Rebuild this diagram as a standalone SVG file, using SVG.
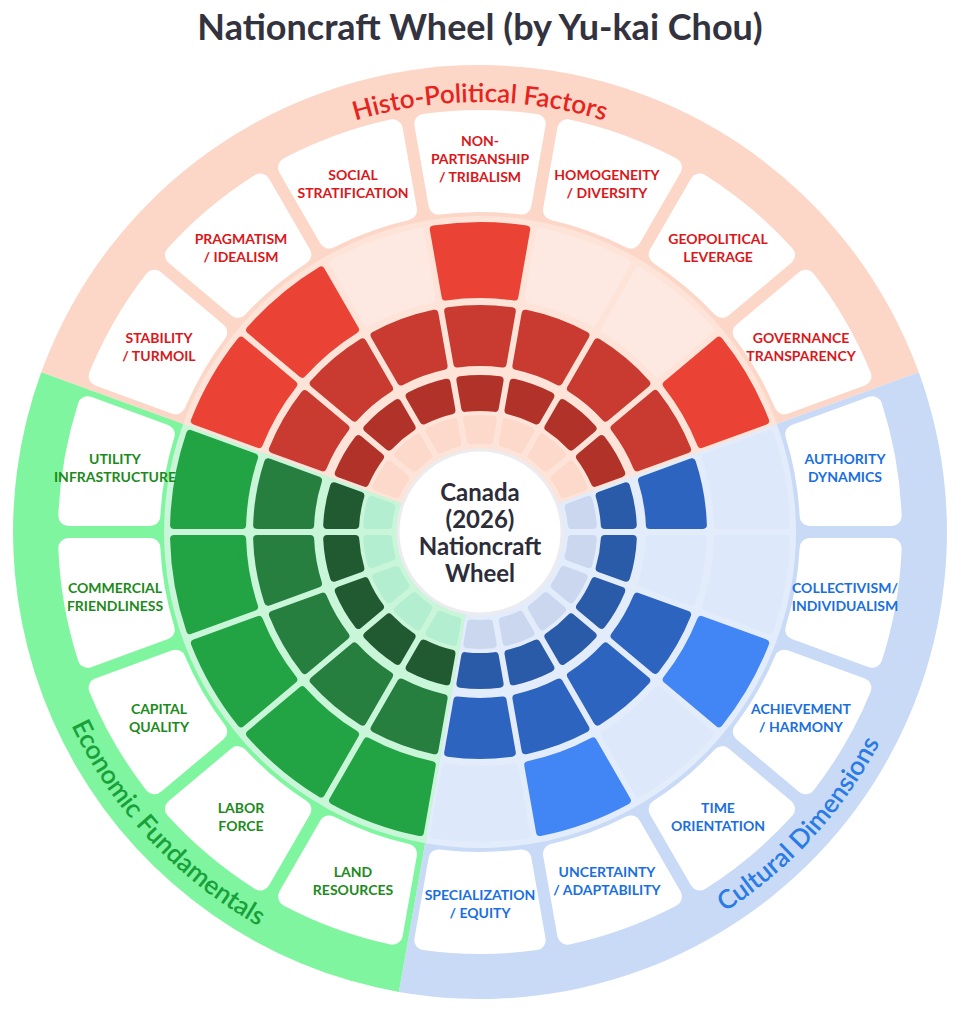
<svg xmlns="http://www.w3.org/2000/svg" xmlns:xlink="http://www.w3.org/1999/xlink" width="961" height="1024" viewBox="0 0 961 1024">
<style>
.c{stroke-linejoin:round;stroke-width:8}
.lb{fill:#fff;stroke:#fff;stroke-width:20;stroke-linejoin:round}
.R4{fill:#ea4335;stroke:#ea4335}.R3{fill:#c93a30;stroke:#c93a30}.R2{fill:#b03228;stroke:#b03228}
.Rf1{fill:#fdd9cb;stroke:#fdd9cb}.Rf{fill:#fde9e2;stroke:#fde9e2}
.B4{fill:#4285f4;stroke:#4285f4}.B3{fill:#2d64bf;stroke:#2d64bf}.B2{fill:#2a5ba8;stroke:#2a5ba8}
.Bf1{fill:#cad7ef;stroke:#cad7ef}.Bf{fill:#dde8fa;stroke:#dde8fa}
.G4{fill:#22a344;stroke:#22a344}.G3{fill:#267f3e;stroke:#267f3e}.G2{fill:#215a31;stroke:#215a31}.Gf1{fill:#b2eecf;stroke:#b2eecf}
text{font-family:Lato,"Open Sans","Liberation Sans",sans-serif;font-weight:bold;text-anchor:middle}
.t{font-size:14px}.tr{fill:#d9181b}.tb{fill:#1a6fe0}.tg{fill:#1c8a1c}
.arc{font-size:26px;font-weight:600}
</style>
<defs>
<path id="s4" d="M235.5 -34.4 L302.5 -46.2 A306 306 0 0 1 302.5 46.2 L235.5 34.4 A238 238 0 0 0 235.5 -34.4 Z"/>
<path id="s3" d="M168.5 -22.6 L220.7 -31.8 A223 223 0 0 1 220.7 31.8 L168.5 22.6 A170 170 0 0 0 168.5 -22.6 Z"/>
<path id="s2" d="M124.1 -14.8 L151.7 -19.6 A153 153 0 0 1 151.7 19.6 L124.1 14.8 A125 125 0 0 0 124.1 -14.8 Z"/>
<path id="s1" d="M91.6 -9 L112.3 -12.7 A113 113 0 0 1 112.3 12.7 L91.6 9 A92 92 0 0 0 91.6 -9 Z"/>
<path id="sl" d="M327.4 -41.5 L408.2 -55.7 A412 412 0 0 1 408.2 55.7 L327.4 41.5 A330 330 0 0 0 327.4 -41.5 Z"/>
<path id="pH" d="M265 160 A428 428 0 0 1 695 160"/>
<path id="pC" d="M634.6 956.7 A452 452 0 0 0 916.6 649"/>
<path id="pE" d="M28.6 555.6 A452 452 0 0 0 424.9 980.6"/>
</defs>
<rect width="961" height="1024" fill="#fff"/>
<text x="480" y="40" style="font-size:36px;fill:#33333f">Nationcraft Wheel (by Yu-kai Chou)</text>
<g id="background">
<path d="M480 532 L41.2 372.3 A467 467 0 0 1 918.8 372.3 Z" fill="#fcd6c7"/>
<path d="M480 532 L918.8 372.3 A467 467 0 0 1 398.9 991.9 Z" fill="#c8daf5"/>
<path d="M480 532 L398.9 991.9 A467 467 0 0 1 41.2 372.3 Z" fill="#7ef59e"/>
<path d="M480 532 L183.1 423.9 A316 316 0 0 1 776.9 423.9 Z" fill="#fde3d8"/>
<path d="M480 532 L776.9 423.9 A316 316 0 0 1 425.1 843.2 Z" fill="#e3ecfb"/>
<path d="M480 532 L425.1 843.2 A316 316 0 0 1 183.1 423.9 Z" fill="#c9f5d9"/>
<text class="arc" style="fill:#e8231e"><textPath href="#pH" startOffset="50%">Histo-Political Factors</textPath></text>
<text class="arc" style="fill:#2a7be4"><textPath href="#pC" startOffset="50%">Cultural Dimensions</textPath></text>
<text class="arc" style="fill:#18a03a"><textPath href="#pE" startOffset="50%">Economic Fundamentals</textPath></text>
</g>
<g id="labels">
<use href="#sl" class="lb" transform="translate(480 532) rotate(-150)"/><use href="#sl" class="lb" transform="translate(480 532) rotate(-130)"/><use href="#sl" class="lb" transform="translate(480 532) rotate(-110)"/><use href="#sl" class="lb" transform="translate(480 532) rotate(-90)"/><use href="#sl" class="lb" transform="translate(480 532) rotate(-70)"/><use href="#sl" class="lb" transform="translate(480 532) rotate(-50)"/><use href="#sl" class="lb" transform="translate(480 532) rotate(-30)"/><use href="#sl" class="lb" transform="translate(480 532) rotate(-10)"/><use href="#sl" class="lb" transform="translate(480 532) rotate(10)"/><use href="#sl" class="lb" transform="translate(480 532) rotate(30)"/><use href="#sl" class="lb" transform="translate(480 532) rotate(50)"/><use href="#sl" class="lb" transform="translate(480 532) rotate(70)"/><use href="#sl" class="lb" transform="translate(480 532) rotate(90)"/><use href="#sl" class="lb" transform="translate(480 532) rotate(110)"/><use href="#sl" class="lb" transform="translate(480 532) rotate(130)"/><use href="#sl" class="lb" transform="translate(480 532) rotate(150)"/><use href="#sl" class="lb" transform="translate(480 532) rotate(170)"/><use href="#sl" class="lb" transform="translate(480 532) rotate(190)"/>
</g>
<g id="histo-political">
<g transform="translate(480 532) rotate(-150)"><use href="#s4" class="c R4"/><use href="#s3" class="c R3"/><use href="#s2" class="c R2"/><use href="#s1" class="c Rf1"/></g>
<g transform="translate(480 532) rotate(-130)"><use href="#s4" class="c R4"/><use href="#s3" class="c R3"/><use href="#s2" class="c R2"/><use href="#s1" class="c Rf1"/></g>
<g transform="translate(480 532) rotate(-110)"><use href="#s4" class="c Rf"/><use href="#s3" class="c R3"/><use href="#s2" class="c R2"/><use href="#s1" class="c Rf1"/></g>
<g transform="translate(480 532) rotate(-90)"><use href="#s4" class="c R4"/><use href="#s3" class="c R3"/><use href="#s2" class="c R2"/><use href="#s1" class="c Rf1"/></g>
<g transform="translate(480 532) rotate(-70)"><use href="#s4" class="c Rf"/><use href="#s3" class="c R3"/><use href="#s2" class="c R2"/><use href="#s1" class="c Rf1"/></g>
<g transform="translate(480 532) rotate(-50)"><use href="#s4" class="c Rf"/><use href="#s3" class="c R3"/><use href="#s2" class="c R2"/><use href="#s1" class="c Rf1"/></g>
<g transform="translate(480 532) rotate(-30)"><use href="#s4" class="c R4"/><use href="#s3" class="c R3"/><use href="#s2" class="c R2"/><use href="#s1" class="c Rf1"/></g>
<g class="t tr">
<text x="159" y="343">STABILITY</text><text x="159" y="361">/ TURMOIL</text>
<text x="241" y="244">PRAGMATISM</text><text x="241" y="262">/ IDEALISM</text>
<text x="353" y="180">SOCIAL</text><text x="353" y="198">STRATIFICATION</text>
<text x="480" y="146">NON-</text><text x="480" y="164">PARTISANSHIP</text><text x="480" y="182">/ TRIBALISM</text>
<text x="607" y="180">HOMOGENEITY</text><text x="607" y="198">/ DIVERSITY</text>
<text x="718" y="244">GEOPOLITICAL</text><text x="718" y="262">LEVERAGE</text>
<text x="801" y="343">GOVERNANCE</text><text x="801" y="361">TRANSPARENCY</text>
</g>
</g>
<g id="cultural">
<g transform="translate(480 532) rotate(-10)"><use href="#s4" class="c Bf"/><use href="#s3" class="c B3"/><use href="#s2" class="c B2"/><use href="#s1" class="c Bf1"/></g>
<g transform="translate(480 532) rotate(10)"><use href="#s4" class="c Bf"/><use href="#s3" class="c Bf"/><use href="#s2" class="c B2"/><use href="#s1" class="c Bf1"/></g>
<g transform="translate(480 532) rotate(30)"><use href="#s4" class="c B4"/><use href="#s3" class="c B3"/><use href="#s2" class="c B2"/><use href="#s1" class="c Bf1"/></g>
<g transform="translate(480 532) rotate(50)"><use href="#s4" class="c Bf"/><use href="#s3" class="c B3"/><use href="#s2" class="c B2"/><use href="#s1" class="c Bf1"/></g>
<g transform="translate(480 532) rotate(70)"><use href="#s4" class="c B4"/><use href="#s3" class="c B3"/><use href="#s2" class="c B2"/><use href="#s1" class="c Bf1"/></g>
<g transform="translate(480 532) rotate(90)"><use href="#s4" class="c Bf"/><use href="#s3" class="c B3"/><use href="#s2" class="c B2"/><use href="#s1" class="c Bf1"/></g>
<g class="t tb">
<text x="845" y="464">AUTHORITY</text><text x="845" y="482">DYNAMICS</text>
<text x="845" y="593">COLLECTIVISM/</text><text x="845" y="611">INDIVIDUALISM</text>
<text x="801" y="714">ACHIEVEMENT</text><text x="801" y="732">/ HARMONY</text>
<text x="718" y="813">TIME</text><text x="718" y="831">ORIENTATION</text>
<text x="607" y="877">UNCERTAINTY</text><text x="607" y="895">/ ADAPTABILITY</text>
<text x="480" y="900">SPECIALIZATION</text><text x="480" y="918">/ EQUITY</text>
</g>
</g>
<g id="economic">
<g transform="translate(480 532) rotate(110)"><use href="#s4" class="c G4"/><use href="#s3" class="c G3"/><use href="#s2" class="c G2"/><use href="#s1" class="c Gf1"/></g>
<g transform="translate(480 532) rotate(130)"><use href="#s4" class="c G4"/><use href="#s3" class="c G3"/><use href="#s2" class="c G2"/><use href="#s1" class="c Gf1"/></g>
<g transform="translate(480 532) rotate(150)"><use href="#s4" class="c G4"/><use href="#s3" class="c G3"/><use href="#s2" class="c G2"/><use href="#s1" class="c Gf1"/></g>
<g transform="translate(480 532) rotate(170)"><use href="#s4" class="c G4"/><use href="#s3" class="c G3"/><use href="#s2" class="c G2"/><use href="#s1" class="c Gf1"/></g>
<g transform="translate(480 532) rotate(190)"><use href="#s4" class="c G4"/><use href="#s3" class="c G3"/><use href="#s2" class="c G2"/><use href="#s1" class="c Gf1"/></g>
<g class="t tg">
<text x="353" y="877">LAND</text><text x="353" y="895">RESOURCES</text>
<text x="241" y="813">LABOR</text><text x="241" y="831">FORCE</text>
<text x="159" y="714">CAPITAL</text><text x="159" y="732">QUALITY</text>
<text x="115" y="593">COMMERCIAL</text><text x="115" y="611">FRIENDLINESS</text>
<text x="115" y="464">UTILITY</text><text x="115" y="482">INFRASTRUCTURE</text>
</g>
</g>
<g id="center">
<circle cx="480" cy="532" r="82" fill="#fff" stroke="#ececf0" stroke-width="3"/>
<g style="font-size:24px;fill:#2d2d3a"><text x="480" y="501">Canada</text><text x="480" y="528">(2026)</text><text x="480" y="555">Nationcraft</text><text x="480" y="582">Wheel</text></g>
</g>
<g id="connectors"/>
</svg>
